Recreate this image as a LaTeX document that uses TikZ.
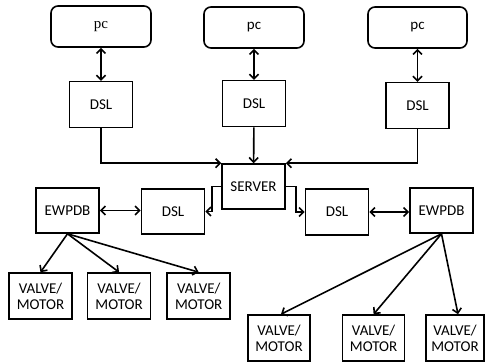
\documentclass[tikz,border=0pt]{standalone}
\usepackage{fontspec}
\setmainfont{Carlito}
\newfontfamily\pcfont{Liberation Serif}
\usetikzlibrary{arrows.meta,calc,positioning}
\tikzset{unit/.style={draw, line width=1.6pt, align=center, minimum width=63pt, minimum height=46pt, inner sep=1pt, font=\fontsize{15}{16}\selectfont}}
\tikzset{terminal/.style={unit, minimum width=100pt, minimum height=41pt, rounded corners=7pt}}
\tikzstyle{arrow} = [-{Straight Barb[length=4.5pt,width=9pt]}]
\tikzstyle{biarrow} = [{Straight Barb[length=4.5pt,width=9pt]}-{Straight Barb[length=4.5pt,width=9pt]}]

\begin{document}
\begin{tikzpicture}[x=1pt, y=-1pt, line width=1.6pt]
	\useasboundingbox (0,0) rectangle (486,363);
	% Nodes
		\node (pcA) [terminal] at (101,26.5) {{\pcfont pc}};
		\node (pcB) [terminal] at (254,27.5) {pc};
		\node (pcC) [terminal, minimum width=99pt] at (417.5,27.5) {pc};
		\node (dslA) [unit, below=33pt of pcA] {DSL};
		\node (dslB) [unit, below=31pt of pcB] {DSL};
		\node (dslC) [unit, below=33pt of pcC] {DSL};
		\node (server) [unit, minimum height=45pt] at (253.5,186.5) {SERVER};
		\node (dslL) [unit, minimum height=45pt] at (173,211.5) {DSL};
		\node (dslR) [unit] at (337,212) {DSL};
		\node (ewpdbL) [unit, minimum height=45pt] at (67.5,210.5) {EWPDB};
		\node (ewpdbR) [unit, minimum height=45pt] at (441.5,210.5) {EWPDB};
		\node (valveA) [unit] at (40.5,296) {VALVE/\\MOTOR};
		\node (valveB) [unit, right=14pt of valveA] {VALVE/\\MOTOR};
		\node (valveC) [unit, right=15pt of valveB] {VALVE/\\MOTOR};
		\node (valveD) [unit, minimum width=62pt] at (279,338) {VALVE/\\MOTOR};
		\node (valveE) [unit, minimum width=62pt, right=31pt of valveD] {VALVE/\\MOTOR};
		\node (valveF) [unit, minimum width=58pt] at (455,338) {VALVE/\\MOTOR};

		% Connectors
		\begin{scope}[biarrow]
			\draw (pcA) -- (dslA);
			\draw (pcB) -- (dslB);
			\draw (pcC) -- (dslC);
			\draw (ewpdbL.east) -- (ewpdbL.east -| dslL.west);
			\draw (dslR.east) -- (dslR.east -| ewpdbR.west);
		\end{scope}
		\begin{scope}[arrow]
			\draw (dslA.south) |- (server.north west);
			\draw (dslB) -- (server);
			\draw (dslC.south) |- (server.north east);
			\draw (server.west) -- ++(-9,0) |- (dslL.east);
			\draw (server.east) -- ++(10,0) |- (dslR.west);
			\draw (ewpdbL.south) -- (valveA.north);
			\draw (ewpdbL.south) -- (valveB.north);
			\draw (ewpdbL.south) -- (valveC.north);
			\draw (ewpdbR.south) -- ($(valveD.north)+(2,0)$);
			\draw (ewpdbR.south) -- (valveE.north);
			\draw (ewpdbR.south) -- ($(valveF.north)+(3,0)$);
		\end{scope}
\end{tikzpicture}
\end{document}
